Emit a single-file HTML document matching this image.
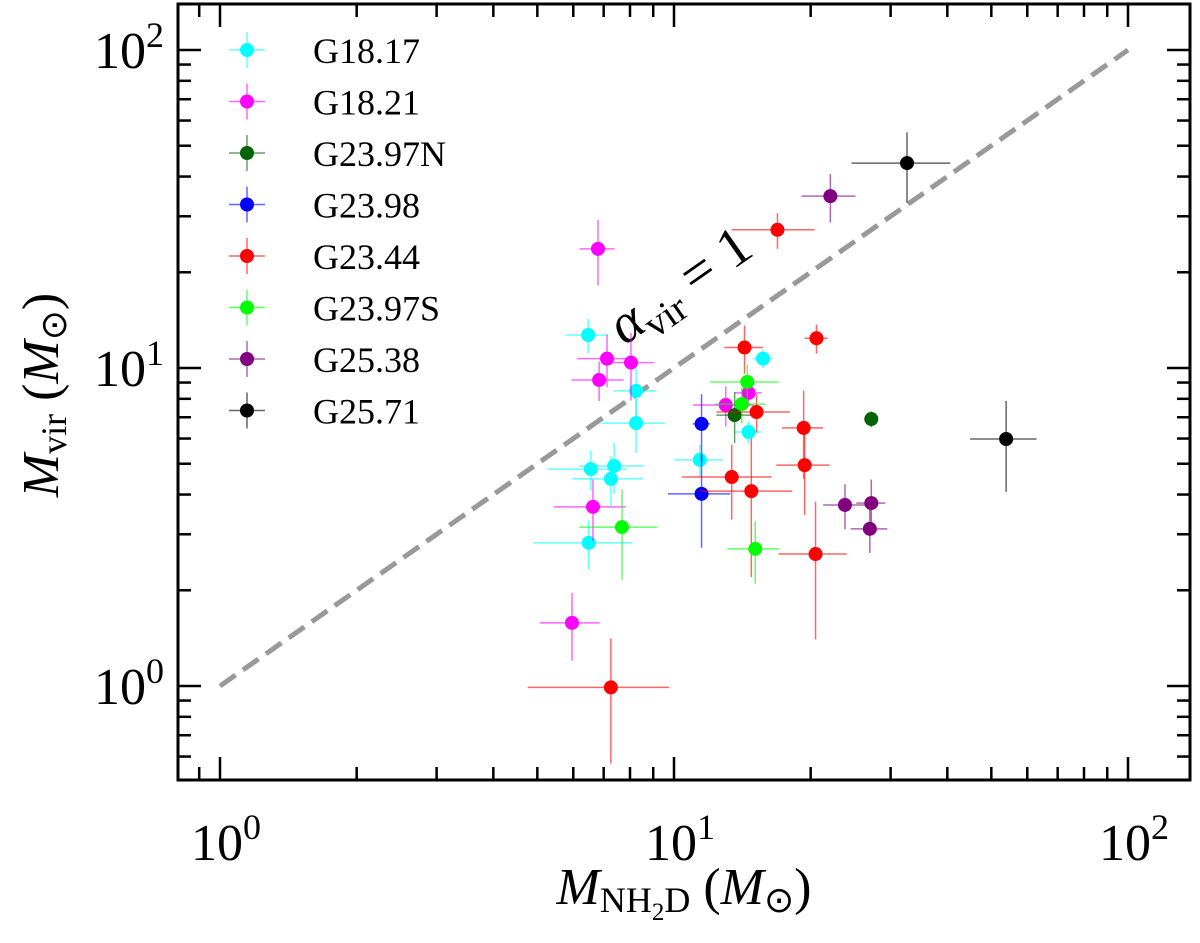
<!DOCTYPE html>
<html><head><meta charset="utf-8"><style>
body{margin:0;background:#fff}
svg text{font-family:"Liberation Serif","Times New Roman",serif;fill:#000}
</style></head><body>
<svg id="c" width="1200" height="938" xmlns="http://www.w3.org/2000/svg"></svg>
<script>
const seriesNames=["G18.17","G18.21","G23.97N","G23.98","G23.44","G23.97S","G25.38","G25.71"];
const seriesColors=["#00ffff","#ff00ff","#006400","#0000ff","#ff0000","#00ff00","#800080","#000000"];
// each point: [x, y, xerr, yerr]
const s0=[[6.47,12.7,0.7,1.6],[8.25,8.47,0.9,1.5],[8.25,6.71,1.3,1.3],[6.56,4.81,1.3,0.7],[7.38,4.92,1.2,0.9],[7.26,4.48,1.3,0.8],[6.49,2.82,1.6,0.5],[11.4,5.14,1.4,0.6],[15.7,10.7,0.8,0.7],[14.6,6.29,1.0,0.5]];
const s1=[[6.80,23.7,0.6,5.5],[7.12,10.7,1.0,2.0],[8.04,10.4,1.0,2.5],[6.84,9.17,0.9,1.3],[6.63,3.66,1.2,0.8],[5.96,1.58,0.9,0.38],[13.0,7.65,2.0,1.1],[14.6,8.35,1.0,0.8]];
const s2=[[13.6,7.11,1.2,1.3],[27.2,6.91,0.6,0.4]];
const s3=[[11.5,6.67,0.5,1.6],[11.5,4.02,1.8,1.3]];
const s4=[[14.3,11.6,1.4,2.0],[20.6,12.4,1.2,1.3],[15.2,7.27,2.8,1.0],[19.3,6.48,2.0,2.0],[19.4,4.95,2.6,1.5],[13.4,4.54,3.0,1.2],[14.8,4.10,3.4,1.9],[20.5,2.60,3.5,1.2],[16.9,27.2,3.5,3.5],[7.26,0.99,2.5,0.42]];
const s5=[[14.5,9.04,2.5,1.2],[14.1,7.7,1.8,1.0],[7.68,3.16,1.5,1.0],[15.1,2.70,2.0,0.6]];
const s6=[[22.1,34.7,3.0,6.0],[23.8,3.71,2.5,0.6],[27.2,3.76,2.0,0.7],[27.0,3.12,2.5,0.5]];
const s7=[[32.6,44.1,8.0,11.0],[53.9,5.98,9.0,1.9]];
const allSeries=[s0,s1,s2,s3,s4,s5,s6,s7];
const xTickLabels=["0","1","2"];
const yTickLabels=["0","1","2"];

const NS="http://www.w3.org/2000/svg";
const svg=document.getElementById('c');
const L=178,R=1190,T=4,B=780;
function X(v){return 220+454*Math.log10(v);}
function Y(v){return 686-318*Math.log10(v);}
function el(t,a,p){const e=document.createElementNS(NS,t);for(const k in a)e.setAttribute(k,a[k]);(p||svg).appendChild(e);return e;}
const defs=el('defs',{});
const cp=el('clipPath',{id:'pc'},defs);el('rect',{x:L,y:T,width:R-L,height:B-T},cp);

const dl=el('line',{x1:X(1),y1:Y(1),x2:X(100),y2:Y(100),stroke:'#999',"stroke-width":5,"stroke-dasharray":"19,9"});


const at=el('text',{transform:`translate(690,300) rotate(-35)`,"font-size":56,"text-anchor":"middle"});


at.innerHTML='<tspan font-style="italic">α</tspan><tspan font-size="39" dy="12">vir</tspan><tspan dy="-12"> = 1</tspan>';

const pg=el('g',{"clip-path":"url(#pc)"});
allSeries.forEach((s,i)=>{
  const g=el('g',{},pg);
  
  
  s.forEach(p=>{
    const [x,y,xe,ye]=p;
    el('line',{x1:X(Math.max(x-xe,0.01)),x2:X(x+xe),y1:Y(y),y2:Y(y),stroke:seriesColors[i],"stroke-width":1.5,opacity:0.6},g);
    el('line',{x1:X(x),x2:X(x),y1:Y(Math.max(y-ye,0.01)),y2:Y(y+ye),stroke:seriesColors[i],"stroke-width":1.5,opacity:0.6},g);
    const c=el('circle',{cx:X(x),cy:Y(y),r:7,fill:seriesColors[i]},g);
    
    
  });
});

const fr=el('rect',{x:L,y:T,width:R-L,height:B-T,fill:'none',stroke:'#000',"stroke-width":3});



const tg=el('g',{stroke:'#000',"stroke-width":2.5});
for(let d=-1;d<=2;d++)for(let m=1;m<10;m++){
  const v=m*Math.pow(10,d);const px=X(v);
  if(px>L+1&&px<R-1){const len=m==1?23:13;
    el('line',{x1:px,x2:px,y1:B,y2:B-len},tg);el('line',{x1:px,x2:px,y1:T,y2:T+len},tg);}
  const py=Y(v);
  if(py>T+1&&py<B-1){const len=m==1?23:13;
    el('line',{x1:L,x2:L+len,y1:py,y2:py},tg);el('line',{x1:R,x2:R-len,y1:py,y2:py},tg);}
}
xTickLabels.forEach((t,i)=>{
  const tx=el('text',{x:X(Math.pow(10,i))+6,y:860,"font-size":52,"text-anchor":"middle"});
  
  
  tx.innerHTML='10<tspan font-size="36" dy="-21">'+t+'</tspan>';
});
yTickLabels.forEach((t,i)=>{
  const tx=el('text',{x:164,y:Y(Math.pow(10,i))+18,"font-size":52,"text-anchor":"end"});
  
  
  tx.innerHTML='10<tspan font-size="36" dy="-21">'+t+'</tspan>';
});
const xl=el('text',{x:684,y:904,"font-size":52,"text-anchor":"middle"});


xl.innerHTML='<tspan font-style="italic">M</tspan><tspan font-size="36" dy="8">NH</tspan><tspan font-size="25" dy="8">2</tspan><tspan font-size="36" dy="-8">D</tspan><tspan dy="-8"> (</tspan><tspan font-style="italic">M</tspan><tspan font-size="36" dy="8">⊙</tspan><tspan dy="-8">)</tspan>';
const yl=el('text',{transform:'translate(58,395) rotate(-90)',"font-size":52,"text-anchor":"middle"});


yl.innerHTML='<tspan font-style="italic">M</tspan><tspan font-size="36" dy="8">vir</tspan><tspan dy="-8"> (</tspan><tspan font-style="italic">M</tspan><tspan font-size="36" dy="8">⊙</tspan><tspan dy="-8">)</tspan>';

const lg=el('g',{});


seriesNames.forEach((n,i)=>{
  const y=50+51.5*i;
  const e=el('g',{},lg);
  
  
  el('line',{x1:229,x2:265,y1:y,y2:y,stroke:seriesColors[i],"stroke-width":1.5,opacity:0.6},e);
  el('line',{x1:247,x2:247,y1:y-18,y2:y+18,stroke:seriesColors[i],"stroke-width":1.5,opacity:0.6},e);
  el('circle',{cx:247,cy:y,r:7,fill:seriesColors[i]},e);
  const t=el('text',{x:313,y:y+13,"font-size":36},e);t.textContent=n;
});
</script>
</body></html>
